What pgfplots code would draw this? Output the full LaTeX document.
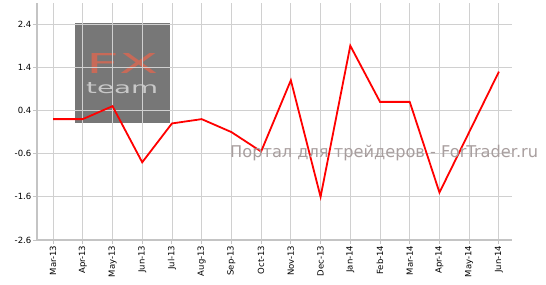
\documentclass[border=0pt]{standalone}
\usepackage{pgfplots}
\pgfplotsset{compat=1.18}
\usepackage{fontspec}
\setmainfont{DejaVu Sans}
\definecolor{gridc}{HTML}{D0D0D0}
\definecolor{axc}{HTML}{C4C4C4}
\definecolor{logobg}{HTML}{777777}
\definecolor{fxc}{HTML}{C86A58}
\definecolor{teamc}{HTML}{C8C8C8}
\definecolor{wmc}{HTML}{A89E9E}
\begin{document}
\begin{tikzpicture}
\path[use as bounding box] (-37pt,-44pt) rectangle (509pt,240pt);
\fill[logobg] (38pt,117pt) rectangle (133pt,217pt);
\node[anchor=south west,inner sep=0pt,text=fxc] at (49pt,166pt) {\resizebox{72pt}{20pt}{FX}};
\node[anchor=south west,inner sep=0pt,text=teamc] at (49pt,146pt) {\resizebox{72pt}{11pt}{team}};
\begin{axis}[
  scale only axis,
  width=475pt, height=237pt,
  xmin=-0.54, xmax=15.44,
  ymin=-2.6, ymax=2.89,
  axis x line=bottom, axis y line=left,
  axis line style={axc, line width=1.5pt, -},
  xtick={0,...,15},
  xticklabels={Mar-13,Apr-13,May-13,Jun-13,Jul-13,Aug-13,Sep-13,Oct-13,Nov-13,Dec-13,Jan-14,Feb-14,Mar-14,Apr-14,May-14,Jun-14},
  ytick={-2.6,-1.6,-0.6,0.4,1.4,2.4},
  yticklabel={\pgfmathprintnumber[fixed,fixed zerofill,precision=1,assume math mode=true]{\tick}},
  tick label style={font=\fontsize{8.5}{10}\selectfont, text=black},
  xticklabel style={rotate=90, anchor=east, inner sep=1.5pt},
  yticklabel style={anchor=east, inner sep=1.5pt},
  tick align=outside,
  major tick length=4pt,
  tick style={axc, line width=1pt},
  grid=major,
  grid style={gridc, line width=0.9pt},
  clip=false,
]
\addplot[red, line width=1.8pt, mark=none] coordinates {
(0,0.2) (1,0.2) (2,0.5) (3,-0.8) (4,0.1) (5,0.2) (6,-0.1) (7,-0.55)
(8,1.1) (9,-1.6) (10,1.9) (11,0.6) (12,0.6) (13,-1.5) (14,-0.1) (15,1.3)
};
\end{axis}
\node[anchor=base west,inner sep=0pt,text=wmc] at (193pt,82pt) {\fontsize{16.2}{18}\selectfont Портал для трейдеров - ForTrader.ru};
\end{tikzpicture}
\end{document}
